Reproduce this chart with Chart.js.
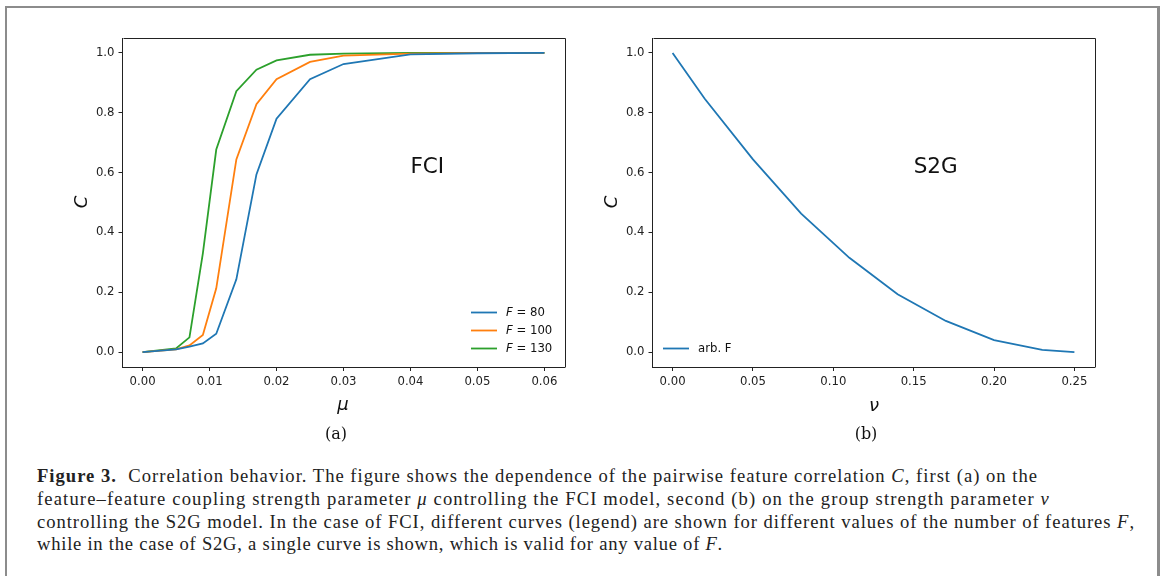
<!DOCTYPE html>
<html>
<head>
<meta charset="utf-8">
<script src="https://cdn.jsdelivr.net/npm/chart.js@4.4.1/dist/chart.umd.min.js"></script>
<style>
  body { margin: 0; background: #fff; width: 1165px; height: 576px; overflow: hidden; position: relative; }
  #frame { position: absolute; left: 5px; top: 6px; width: 1150px; height: 600px;
           border-style: solid; border-color: #8c8c8c; border-width: 2px 3px 0 2px; }
  .plot { position: absolute; top: 0; width: 600px; height: 460px; }
  .lbl { position: absolute; width: 0; height: 0; }
  .lbl span { position: absolute; transform: translate(-50%, -50%); white-space: nowrap; color: #111; }
  .axt span { font-family: "DejaVu Sans", sans-serif; font-style: italic; font-size: 18px; }
  .rot span { transform: translate(-50%, -50%) rotate(-90deg); }
  .sub span { font-family: "DejaVu Serif", serif; font-size: 16px; }
  #caption { position: absolute; left: 37px; top: 465px; font-family: "Liberation Serif", serif;
             font-size: 18.6px; line-height: 22.8px; color: #222; white-space: nowrap; }
  #caption div { display: table; }
</style>
</head>
<body>
<div id="frame"></div>

<div class="plot" style="left:0"><canvas id="fci" width="600" height="460"></canvas></div>
<div class="plot" style="left:530px"><canvas id="s2g" width="600" height="460"></canvas></div>

<div class="lbl axt rot" style="left:80px;top:202px"><span>C</span></div>
<div class="lbl axt rot" style="left:610px;top:202px"><span>C</span></div>
<div class="lbl axt" style="left:343px;top:403px"><span>μ</span></div>
<div class="lbl axt" style="left:874px;top:404px"><span>ν</span></div>
<div class="lbl sub" style="left:336px;top:433px"><span>(a)</span></div>
<div class="lbl sub" style="left:866px;top:433px"><span>(b)</span></div>

<div id="caption">
<div><b>Figure 3.</b>&nbsp; Correlation behavior. The figure shows the dependence of the pairwise feature correlation <i>C</i>, first (a) on the</div>
<div>feature–feature coupling strength parameter <i>μ</i> controlling the FCI model, second (b) on the group strength parameter <i>ν</i></div>
<div>controlling the S2G model. In the case of FCI, different curves (legend) are shown for different values of the number of features <i>F</i>,</div>
<div>while in the case of S2G, a single curve is shown, which is valid for any value of <i>F</i>.</div>
</div>

<script>
// panel (a): FCI model
const muVals = [0, 0.005, 0.007, 0.009, 0.011, 0.014, 0.017, 0.02, 0.025, 0.03, 0.04, 0.05, 0.06];
const cF80  = [0, 0.009, 0.018, 0.029, 0.061, 0.243, 0.594, 0.780, 0.912, 0.963, 0.995, 0.999, 1.0];
const cF100 = [0, 0.009, 0.022, 0.057, 0.213, 0.644, 0.829, 0.912, 0.970, 0.991, 0.998, 1.0, 1.0];
const cF130 = [0, 0.012, 0.049, 0.330, 0.677, 0.872, 0.944, 0.975, 0.994, 0.998, 1.0, 1.0, 1.0];
const fciLabels = ['80', '100', '130'];
const muTicks = [0, 0.01, 0.02, 0.03, 0.04, 0.05, 0.06];

// panel (b): S2G model
const nuVals = [0, 0.02, 0.05, 0.08, 0.11, 0.14, 0.17, 0.2, 0.23, 0.25];
const cS2G = [1.0, 0.847, 0.644, 0.463, 0.315, 0.193, 0.104, 0.040, 0.007, 0.0];
const nuTicks = [0, 0.05, 0.1, 0.15, 0.2, 0.25];

const cTicks = [0, 0.2, 0.4, 0.6, 0.8, 1.0];

const colors = ['#1f77b4', '#ff7f0e', '#2ca02c'];
const ink = '#222';
const tickFont = { family: 'DejaVu Sans', size: 11.7 };

// caption set in a narrower font than the original, so spread each line to its width
const captionEnds = [1038, 1050, 1135, 723];
document.querySelectorAll('#caption div').forEach((line, i) => {
  const w = line.getBoundingClientRect().width;
  const n = line.textContent.length;
  line.style.letterSpacing = ((captionEnds[i] - 37 - w) / n) + 'px';
});

const toPoints = (xs, ys) => xs.map((x, i) => ({ x: x, y: ys[i] }));

// top and right spines, in-axes text and legend
const extras = {
  id: 'extras',
  afterDraw(chart, args, opts) {
    const { ctx, chartArea: a, scales } = chart;
    ctx.save();
    ctx.strokeStyle = ink;
    ctx.lineWidth = 1;
    ctx.beginPath();
    ctx.moveTo(Math.round(a.left) + 0.5, Math.round(a.top) + 0.5);
    ctx.lineTo(Math.round(a.right) + 0.5, Math.round(a.top) + 0.5);
    ctx.lineTo(Math.round(a.right) + 0.5, Math.round(a.bottom) + 0.5);
    ctx.stroke();

    // model name
    ctx.fillStyle = '#111';
    ctx.font = '21.5px "DejaVu Sans"';
    ctx.textBaseline = 'alphabetic';
    ctx.textAlign = 'left';
    ctx.fillText(opts.name, scales.x.getPixelForValue(opts.nameAt[0]), scales.y.getPixelForValue(opts.nameAt[1]));

    // legend, lower right or lower left
    const sets = chart.data.datasets;
    const rowH = 18;
    const lx = opts.legendLeft ? a.left + 10.5 : a.right - 93.5;
    let ly = a.bottom - 18.5 - (sets.length - 1) * rowH;
    ctx.textBaseline = 'middle';
    sets.forEach(ds => {
      ctx.strokeStyle = ds.borderColor;
      ctx.lineWidth = 1.8;
      ctx.beginPath();
      ctx.moveTo(lx, ly);
      ctx.lineTo(lx + 26, ly);
      ctx.stroke();
      ctx.fillStyle = '#111';
      let tx = lx + 35;
      ds.legendParts.forEach(p => {
        ctx.font = (p.italic ? 'italic ' : '') + '11.7px "DejaVu Sans"';
        ctx.fillText(p.text, tx, ly + 0.5);
        tx += ctx.measureText(p.text).width;
      });
      ly += rowH;
    });
    ctx.restore();
  }
};

function axes(xMin, xMax, xTicks, xDigits) {
  return {
    x: {
      type: 'linear', min: xMin, max: xMax,
      afterBuildTicks: s => { s.ticks = xTicks.map(v => ({ value: v })); },
      afterFit: s => { s.height = 93; },
      ticks: { font: tickFont, color: ink, padding: 4, maxRotation: 0, autoSkip: false,
               callback: v => Number(v).toFixed(xDigits) },
      grid: { drawOnChartArea: false, drawTicks: true, tickLength: 4, color: ink, lineWidth: 1 },
      border: { display: true, color: ink, width: 1 }
    },
    y: {
      type: 'linear', min: -0.05, max: 1.05,
      afterBuildTicks: s => { s.ticks = cTicks.map(v => ({ value: v })); },
      afterFit: s => { s.width = 122.5; },
      ticks: { font: tickFont, color: ink, padding: 4, autoSkip: false,
               callback: v => Number(v).toFixed(1) },
      grid: { drawOnChartArea: false, drawTicks: true, tickLength: 4, color: ink, lineWidth: 1 },
      border: { display: true, color: ink, width: 1 }
    }
  };
}

const baseOpts = {
  responsive: false,
  animation: false,
  devicePixelRatio: 1,
  layout: { padding: { top: 38, right: 35.5, left: 0, bottom: 0 } },
  elements: { point: { radius: 0 }, line: { borderWidth: 1.8, tension: 0 } },
  plugins: { legend: { display: false }, tooltip: { enabled: false } }
};

new Chart(document.getElementById('fci'), {
  type: 'line',
  data: {
    datasets: [cF80, cF100, cF130].map((ys, i) => ({
      label: 'F = ' + fciLabels[i],
      legendParts: [{ text: 'F', italic: true }, { text: ' = ' + fciLabels[i] }],
      data: toPoints(muVals, ys),
      borderColor: colors[i],
      fill: false
    }))
  },
  options: Object.assign({}, baseOpts, {
    scales: axes(-0.003, 0.063, muTicks, 2),
    plugins: Object.assign({}, baseOpts.plugins, {
      extras: { name: 'FCI', nameAt: [0.04, 0.6], legendLeft: false }
    })
  }),
  plugins: [extras]
});

new Chart(document.getElementById('s2g'), {
  type: 'line',
  data: {
    datasets: [{
      label: 'arb. F',
      legendParts: [{ text: 'arb. F' }],
      data: toPoints(nuVals, cS2G),
      borderColor: colors[0],
      fill: false
    }]
  },
  options: Object.assign({}, baseOpts, {
    scales: axes(-0.0125, 0.2625, nuTicks, 2),
    plugins: Object.assign({}, baseOpts.plugins, {
      extras: { name: 'S2G', nameAt: [0.15, 0.6], legendLeft: true }
    })
  }),
  plugins: [extras]
});
</script>
</body>
</html>
